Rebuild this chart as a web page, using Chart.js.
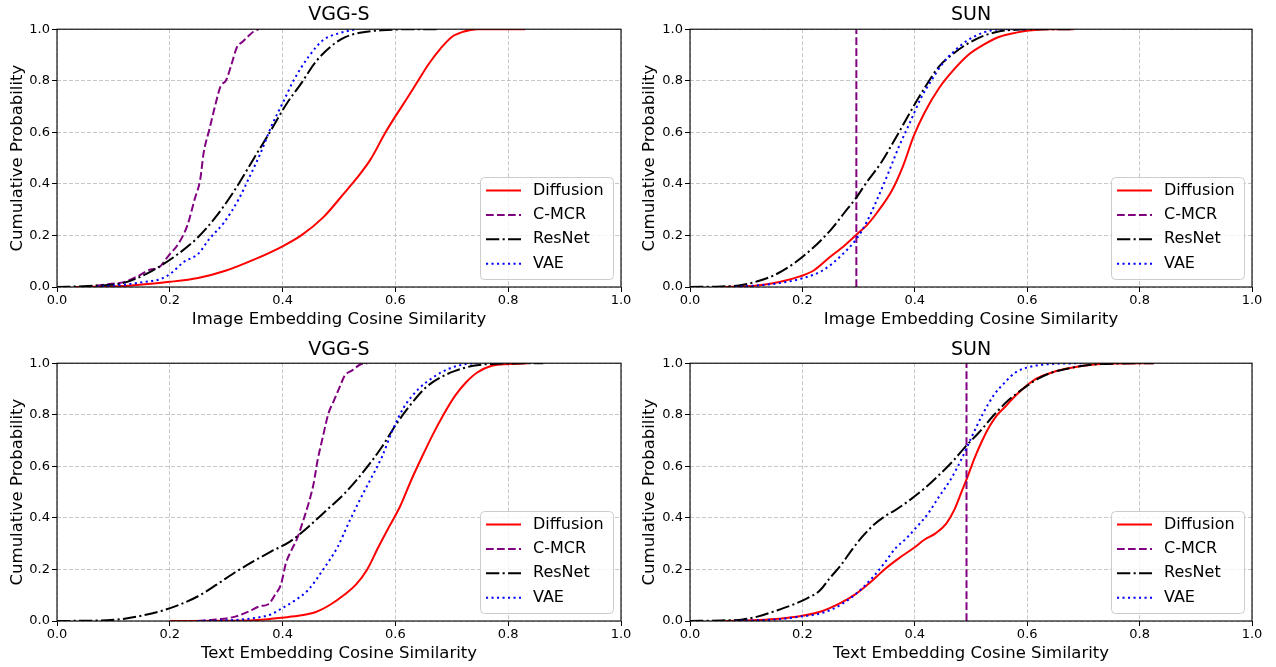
<!DOCTYPE html>
<html>
<head>
<meta charset="utf-8">
<script src="https://cdn.jsdelivr.net/npm/chart.js@4.4.1/dist/chart.umd.min.js"></script>
<style>
  html, body { margin: 0; padding: 0; background: #fff; overflow: hidden; }
  .cell { position: absolute; }
</style>
</head>
<body>
<div class="cell" style="left:0;top:0"><canvas id="c0" width="638" height="334"></canvas></div>
<div class="cell" style="left:638px;top:0"><canvas id="c1" width="638" height="334"></canvas></div>
<div class="cell" style="left:0;top:334px"><canvas id="c2" width="638" height="333"></canvas></div>
<div class="cell" style="left:638px;top:334px"><canvas id="c3" width="638" height="333"></canvas></div>
<script>
// values: [similarity, cumulative probability]
const seriesNames = ["Diffusion", "C-MCR", "ResNet", "VAE"];
const panelTitles = ["VGG-S", "SUN", "VGG-S", "SUN"];
const xTitles = ["Image Embedding Cosine Similarity", "Image Embedding Cosine Similarity",
                 "Text Embedding Cosine Similarity", "Text Embedding Cosine Similarity"];
const tickValues = [0, 0.2, 0.4, 0.6, 0.8, 1.0];

// VGG-S, image embeddings
const vggImgDiffusion = [[0.03,0],[0.12,0.004],[0.2,0.02],[0.25,0.035],[0.3,0.064],[0.35,0.107],[0.4,0.158],[0.433,0.2],[0.472,0.27],[0.51,0.366],[0.53,0.418],[0.556,0.495],[0.582,0.598],[0.6,0.662],[0.621,0.733],[0.641,0.803],[0.66,0.868],[0.68,0.925],[0.7,0.97],[0.72,0.99],[0.745,1],[0.83,1]];
const vggImgCmcr = [[0.05,0],[0.088,0.01],[0.12,0.02],[0.146,0.045],[0.166,0.068],[0.179,0.073],[0.198,0.122],[0.215,0.167],[0.231,0.238],[0.244,0.34],[0.254,0.418],[0.26,0.52],[0.27,0.61],[0.28,0.7],[0.29,0.778],[0.3,0.803],[0.309,0.861],[0.319,0.93],[0.329,0.951],[0.338,0.97],[0.348,0.99],[0.358,1]];
const vggImgResnet = [[0,0],[0.055,0.004],[0.12,0.017],[0.153,0.045],[0.185,0.084],[0.211,0.122],[0.25,0.193],[0.283,0.276],[0.316,0.379],[0.348,0.495],[0.38,0.61],[0.406,0.707],[0.433,0.79],[0.459,0.874],[0.485,0.932],[0.51,0.968],[0.537,0.986],[0.576,0.996],[0.64,1],[0.673,1]];
const vggImgVae = [[0.07,0],[0.12,0.009],[0.153,0.019],[0.185,0.032],[0.205,0.058],[0.224,0.096],[0.25,0.128],[0.27,0.186],[0.296,0.25],[0.322,0.34],[0.342,0.43],[0.361,0.52],[0.38,0.623],[0.4,0.713],[0.42,0.803],[0.446,0.893],[0.472,0.958],[0.498,0.983],[0.53,1]];

// SUN, image embeddings
const sunImgDiffusion = [[0.05,0],[0.12,0.006],[0.159,0.019],[0.197,0.042],[0.22,0.064],[0.249,0.116],[0.275,0.161],[0.296,0.203],[0.314,0.238],[0.333,0.289],[0.359,0.373],[0.379,0.469],[0.398,0.585],[0.417,0.675],[0.443,0.771],[0.469,0.842],[0.495,0.9],[0.521,0.938],[0.547,0.968],[0.573,0.983],[0.599,0.994],[0.637,1],[0.683,1]];
const sunImgCmcr = [[0.296,0],[0.296,1]];
const sunImgResnet = [[0,0],[0.055,0.002],[0.087,0.006],[0.12,0.022],[0.152,0.048],[0.184,0.09],[0.217,0.148],[0.249,0.218],[0.275,0.289],[0.296,0.347],[0.314,0.405],[0.34,0.482],[0.366,0.578],[0.391,0.675],[0.417,0.771],[0.443,0.855],[0.469,0.906],[0.495,0.945],[0.521,0.973],[0.547,0.99],[0.573,0.997],[0.637,1],[0.683,1]];
const sunImgVae = [[0.08,0],[0.152,0.013],[0.197,0.032],[0.236,0.064],[0.269,0.122],[0.296,0.186],[0.314,0.25],[0.333,0.34],[0.353,0.443],[0.372,0.546],[0.391,0.636],[0.411,0.733],[0.43,0.803],[0.45,0.868],[0.469,0.913],[0.495,0.958],[0.521,0.986],[0.553,1],[0.6,1]];

// VGG-S, text embeddings
const vggTxtDiffusion = [[0.2,0],[0.316,0.001],[0.368,0.006],[0.4,0.013],[0.433,0.022],[0.459,0.035],[0.485,0.064],[0.51,0.103],[0.53,0.141],[0.55,0.2],[0.569,0.283],[0.589,0.366],[0.608,0.443],[0.628,0.546],[0.647,0.636],[0.667,0.726],[0.686,0.803],[0.706,0.874],[0.725,0.925],[0.745,0.964],[0.771,0.99],[0.803,0.997],[0.836,1]];
const vggTxtCmcr = [[0.25,0],[0.283,0.006],[0.316,0.017],[0.342,0.039],[0.361,0.058],[0.374,0.064],[0.387,0.103],[0.397,0.141],[0.406,0.225],[0.416,0.276],[0.426,0.321],[0.436,0.386],[0.446,0.456],[0.455,0.533],[0.462,0.623],[0.472,0.72],[0.481,0.803],[0.491,0.855],[0.501,0.906],[0.51,0.951],[0.524,0.973],[0.537,0.994],[0.55,1]];
const vggTxtResnet = [[0,0],[0.088,0.003],[0.12,0.009],[0.153,0.022],[0.185,0.039],[0.218,0.064],[0.25,0.096],[0.283,0.141],[0.316,0.189],[0.348,0.231],[0.38,0.27],[0.413,0.308],[0.446,0.366],[0.478,0.43],[0.51,0.495],[0.543,0.578],[0.576,0.675],[0.602,0.765],[0.628,0.842],[0.654,0.906],[0.68,0.945],[0.706,0.97],[0.738,0.99],[0.771,0.997],[0.862,1]];
const vggTxtVae = [[0.25,0],[0.316,0.004],[0.355,0.013],[0.38,0.026],[0.4,0.051],[0.42,0.077],[0.446,0.122],[0.472,0.2],[0.498,0.289],[0.517,0.38],[0.537,0.47],[0.556,0.55],[0.576,0.636],[0.596,0.745],[0.615,0.829],[0.641,0.9],[0.667,0.945],[0.693,0.977],[0.725,0.997],[0.745,1]];

// SUN, text embeddings
const sunTxtDiffusion = [[0.06,0],[0.12,0.004],[0.159,0.009],[0.197,0.019],[0.236,0.039],[0.269,0.071],[0.294,0.103],[0.32,0.148],[0.346,0.2],[0.372,0.244],[0.398,0.283],[0.417,0.315],[0.437,0.34],[0.456,0.378],[0.47,0.43],[0.483,0.5],[0.494,0.56],[0.506,0.63],[0.52,0.7],[0.533,0.755],[0.545,0.795],[0.56,0.829],[0.579,0.874],[0.599,0.913],[0.618,0.942],[0.644,0.964],[0.676,0.981],[0.715,0.994],[0.767,0.999],[0.825,1]];
const sunTxtCmcr = [[0.492,0],[0.492,1]];
const sunTxtResnet = [[0,0],[0.055,0.002],[0.094,0.006],[0.12,0.017],[0.152,0.039],[0.184,0.064],[0.21,0.09],[0.23,0.116],[0.249,0.167],[0.269,0.218],[0.288,0.276],[0.307,0.328],[0.327,0.373],[0.346,0.405],[0.366,0.431],[0.391,0.469],[0.417,0.514],[0.443,0.566],[0.469,0.623],[0.492,0.681],[0.515,0.733],[0.54,0.797],[0.566,0.855],[0.592,0.9],[0.618,0.938],[0.644,0.964],[0.676,0.981],[0.715,0.994],[0.767,0.999],[0.825,1]];
const sunTxtVae = [[0.08,0],[0.152,0.006],[0.197,0.017],[0.236,0.032],[0.269,0.064],[0.301,0.116],[0.327,0.174],[0.346,0.225],[0.366,0.283],[0.385,0.321],[0.404,0.366],[0.424,0.418],[0.443,0.482],[0.463,0.546],[0.482,0.623],[0.501,0.713],[0.521,0.803],[0.54,0.874],[0.56,0.925],[0.579,0.964],[0.605,0.986],[0.637,0.996],[0.702,1]];

const panels = [
  [vggImgDiffusion, vggImgCmcr, vggImgResnet, vggImgVae],
  [sunImgDiffusion, sunImgCmcr, sunImgResnet, sunImgVae],
  [vggTxtDiffusion, vggTxtCmcr, vggTxtResnet, vggTxtVae],
  [sunTxtDiffusion, sunTxtCmcr, sunTxtResnet, sunTxtVae]
];

const FONT = "'DejaVu Sans', sans-serif";
const colors = ["#ff0000", "#800080", "#000000", "#0000ff"];
const dashes = [[], [7.7, 3.3], [13.3, 3.3, 2.1, 3.3], [2.1, 3.4]];
const GRID = "rgba(176,176,176,0.7)";

// axes frame + matplotlib-like legend in the lower right corner
const framePlugin = {
  id: "frame",
  afterDraw(chart) {
    const { ctx, chartArea: a } = chart;
    ctx.save();
    ctx.strokeStyle = "#000";
    ctx.lineWidth = 1.1;
    ctx.strokeRect(a.left, a.top, a.right - a.left, a.bottom - a.top);

    const bw = 133, bh = 102;
    const x0 = a.right - 8 - bw, y0 = a.bottom - 8 - bh;
    ctx.beginPath();
    ctx.roundRect(x0 + 0.5, y0 + 0.5, bw, bh, 4);
    ctx.fillStyle = "rgba(255,255,255,0.8)";
    ctx.fill();
    ctx.strokeStyle = "#cccccc";
    ctx.lineWidth = 1;
    ctx.stroke();

    ctx.font = "16px " + FONT;
    ctx.textBaseline = "middle";
    ctx.textAlign = "left";
    seriesNames.forEach((name, i) => {
      const y = y0 + 13.5 + i * 24.4;
      ctx.beginPath();
      ctx.setLineDash(dashes[i]);
      ctx.strokeStyle = colors[i];
      ctx.lineWidth = 2;
      ctx.moveTo(x0 + 6, y);
      ctx.lineTo(x0 + 41, y);
      ctx.stroke();
      ctx.setLineDash([]);
      ctx.fillStyle = "#000";
      ctx.fillText(name, x0 + 53, y);
    });
    ctx.restore();
  }
};

function makeChart(idx, yWidth, rightPad, titlePad, xTitlePad, yTitlePad, xHeight) {
  const datasets = panels[idx].map((pts, i) => ({
    label: seriesNames[i],
    data: pts.map(p => ({ x: p[0], y: p[1] })),
    borderColor: colors[i],
    borderWidth: 2,
    borderDash: dashes[i],
    pointRadius: 0,
    fill: false,
    order: 3 - i,
    tension: 0,
    cubicInterpolationMode: pts.length > 2 ? "monotone" : "default"
  }));

  const tickFont = { family: FONT, size: 13 };
  const labelFont = { family: FONT, size: 16.5 };

  new Chart(document.getElementById("c" + idx), {
    type: "line",
    data: { datasets },
    options: {
      responsive: false,
      animation: false,
      events: [],
      layout: { padding: { left: 0, right: rightPad, top: 0, bottom: 0 } },
      plugins: {
        legend: { display: false },
        tooltip: { enabled: false },
        title: {
          display: true,
          text: panelTitles[idx],
          fullSize: false,
          color: "#000",
          font: { family: FONT, size: 19, weight: "normal" },
          padding: titlePad
        }
      },
      scales: {
        x: {
          type: "linear",
          min: 0,
          max: 1,
          afterBuildTicks: s => { s.ticks = tickValues.map(v => ({ value: v })); },
          ticks: { color: "#000", font: tickFont, padding: 1, maxRotation: 0, autoSkip: false,
                   callback: v => v.toFixed(1) },
          grid: { color: GRID, lineWidth: 1, tickLength: 5, tickColor: "#000", tickWidth: 1, tickBorderDash: [] },
          border: { display: false, dash: [4, 2] },
          title: { display: true, text: xTitles[idx], color: "#000", font: labelFont,
                   padding: { top: 0, bottom: xTitlePad } },
          afterFit: s => { s.height = xHeight; }
        },
        y: {
          type: "linear",
          min: 0,
          max: 1,
          afterBuildTicks: s => { s.ticks = tickValues.map(v => ({ value: v })); },
          ticks: { color: "#000", font: tickFont, padding: 2, autoSkip: false,
                   callback: v => v.toFixed(1) },
          grid: { color: GRID, lineWidth: 1, tickLength: 5, tickColor: "#000", tickWidth: 1, tickBorderDash: [] },
          border: { display: false, dash: [4, 2] },
          title: { display: true, text: "Cumulative Probability", color: "#000", font: labelFont,
                   padding: { top: yTitlePad, bottom: 0 } },
          afterFit: s => { s.width = yWidth; }
        }
      }
    },
    plugins: [framePlugin]
  });
}

makeChart(0, 57, 17, { top: 4, bottom: 2.4 }, 4.1, 7.6, 47);
makeChart(1, 52, 24, { top: 4, bottom: 2.4 }, 4.1, 1.6, 47);
makeChart(2, 57, 17, { top: 4.8, bottom: 1.6 }, 3.1, 7.6, 46);
makeChart(3, 52, 24, { top: 4.8, bottom: 1.6 }, 3.1, 1.6, 46);
</script>
</body>
</html>
